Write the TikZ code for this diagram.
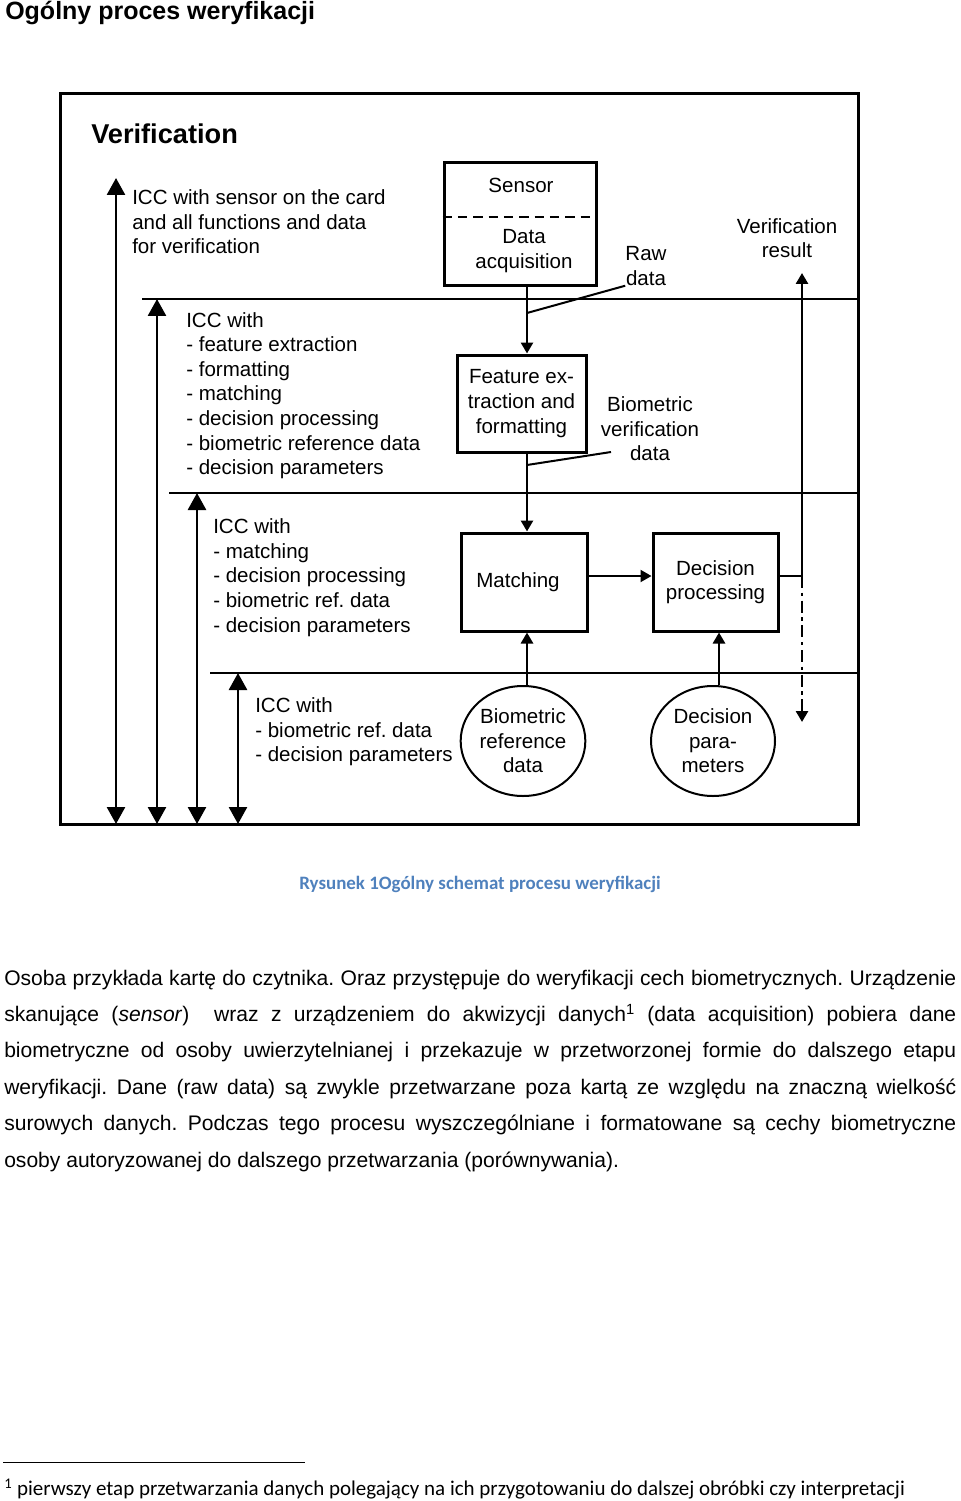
\documentclass[tikz,border=0pt]{standalone}
\usepackage{fontspec}
\setmainfont{Liberation Sans}
\newfontfamily\capfont{Carlito}
\usepackage{tikz}
\usetikzlibrary{arrows.meta,positioning,shapes.geometric}
\definecolor{capblue}{RGB}{79,129,189}
\frenchspacing

\begin{document}
\begin{tikzpicture}[x=0.75pt, y=-0.75pt,
  frame/.style={draw, line width=2.25pt, outer sep=0pt, inner sep=0pt,
    minimum width=598.5pt, minimum height=547.5pt},
  box/.style={draw, line width=2.25pt, inner sep=0pt, align=center,
    font=\fontsize{15.4}{18.45}\selectfont},
  blob/.style={draw, ellipse, line width=1.5pt, inner sep=0pt, align=center,
    minimum width=93.5pt, minimum height=82.5pt,
    font=\fontsize{15.4}{18.45}\selectfont},
  txt/.style={inner sep=0pt, align=left, font=\fontsize{15.4}{18.45}\selectfont},
  ctxt/.style={txt, align=center},
  layer/.style={line width=2pt},
  span/.style={<->, >={Triangle[width=13.5pt,length=12.75pt]}, line width=2pt},
  arr/.style={->, >={Triangle[width=9pt,length=8.25pt]}, line width=2pt},
  thinarr/.style={arr, line width=1.5pt},
  lead/.style={line width=1.5pt},
  cutline/.style={line width=1.5pt, dash pattern=on 7pt off 4.5pt},
  dotarr/.style={arr, dash pattern=on 9pt off 3.5pt on 2.5pt off 3.5pt},
]
\useasboundingbox (0,0) rectangle (960,1501);

%% Page heading
\node[anchor=base west, inner sep=0pt, font=\fontsize{18.75}{22}\selectfont\bfseries]
  (title) at (5,20) {Ogólny proces weryfikacji};

%% Card frame and layers
\node[frame] (card) at (459,459) {};
\node[txt, anchor=west, font=\fontsize{20.4}{24}\selectfont\bfseries]
  (vtitle) at (91,134) {Verification};

\coordinate (lay1) at (142,299);
\coordinate (lay2) at (169,493);
\coordinate (lay3) at (210,673);
\draw[layer] (lay1) -- (lay1 -| card.east);
\draw[layer] (lay2) -- (lay2 -| card.east);
\draw[layer] (lay3) -- (lay3 -| card.east);

\coordinate (lvl0) at (116,178);
\coordinate (lvl1) at (157,299);
\coordinate (lvl2) at (197,493);
\coordinate (lvl3) at (238,673);
\draw[span] (lvl0) -- (lvl0 |- card.south);
\draw[span] (lvl1) -- (lvl1 |- card.south);
\draw[span] (lvl2) -- (lvl2 |- card.south);
\draw[span] (lvl3) -- (lvl3 |- card.south);

\node[txt, anchor=west] (icc0) at (132,222)
  {ICC with sensor on the card\\and all functions and data\\for verification};
\node[txt, anchor=west] (icc1) at (186,395.5)
  {ICC with\\- feature extraction\\- formatting\\- matching\\- decision processing\\- biometric reference data\\- decision parameters};
\node[txt, anchor=west] (icc2) at (213,577.5)
  {ICC with\\- matching\\- decision processing\\- biometric ref. data\\- decision parameters};
\node[txt, anchor=west] (icc3) at (255,732)
  {ICC with\\- biometric ref. data\\- decision parameters};

%% Processing chain
\node[box, minimum width=114pt, minimum height=92.25pt] (sensor) at (520,224.5) {};
\coordinate (cut) at (0,217);
\draw[cutline] (sensor.west |- cut) -- (sensor.east |- cut);
\node[ctxt] (sensorlbl) at (521,185) {Sensor};
\node[ctxt] (acqlbl) at (524,251) {Data\\acquisition};

\node[box, minimum width=96.75pt, minimum height=72.75pt] (feat) at (521.5,403.5)
  {Feature ex-\\traction and\\formatting};
\node[box, minimum width=94.5pt, minimum height=73.5pt] (match) at (524,582)
  {Matching\hspace*{9pt}};
\node[box, minimum width=93.75pt, minimum height=73.5pt] (decide) at (715.5,582)
  {Decision\\processing};
\node[blob] (bref) at (523,741) {Biometric\\reference\\data};
\node[blob, minimum width=93pt] (dpar) at (713,741) {Decision\\para-\\meters};

\node[ctxt] (raw) at (646,266) {Raw\\data};
\node[ctxt] (bvd) at (650,429) {Biometric\\verification\\data};
\node[ctxt] (result) at (787,238) {Verification\\result};

%% Connections
\coordinate (spine) at (527,0);
\coordinate (dspine) at (719,0);
\coordinate (flow) at (0,576);
\draw[arr] (sensor.south -| spine) -- (feat.north -| spine);
\draw[arr] (feat.south -| spine) -- (match.north -| spine);
\draw[arr] (bref.north -| spine) -- (match.south -| spine);
\draw[arr] (dpar.north -| dspine) -- (decide.south -| dspine);
\draw[thinarr] (match.east |- flow) -- (decide.west |- flow);

\coordinate (restip) at (802,273);
\coordinate (cardtip) at (802,722);
\draw[arr] (decide.east |- flow) -| (restip);
\draw[dotarr] (restip |- flow) -- (cardtip);

\coordinate (rawtap) at (527,313);
\draw[lead] (rawtap) -- (raw.south west);
\coordinate (bvdtap) at (527,465);
\coordinate (bvdend) at (611,452);
\draw[lead] (bvdtap) -- (bvdend);

%% Caption
\node[anchor=base, inner sep=0pt, text=capblue,
  font=\capfont\bfseries\fontsize{14.2}{17}\selectfont]
  (cap) at (480,889) {Rysunek 1Ogólny schemat procesu weryfikacji};

%% Body text
\node[anchor=base west, inner sep=0pt, text width=714pt, align=justify,
  font=\fontsize{15.8}{27.3}\selectfont] (body) at (4,985)
  {Osoba przykłada kartę do czytnika. Oraz przystępuje do weryfikacji cech biometrycznych. Urządzenie\linebreak
  skanujące (\textit{sensor})\ \ wraz z urządzeniem do akwizycji danych\textsuperscript{1} (data acquisition) pobiera dane\linebreak
  biometryczne od osoby uwierzytelnianej i przekazuje w przetworzonej formie do dalszego etapu\linebreak
  weryfikacji. Dane (raw data) są zwykle przetwarzane poza kartą ze względu na znaczną wielkość\linebreak
  surowych danych. Podczas tego procesu wyszczególniane i formatowane są cechy biometryczne\linebreak
  osoby autoryzowanej do dalszego przetwarzania (porównywania).};

%% Footnote
\draw[line width=0.75pt] (3,1462) -- (305,1462);
\node[anchor=base west, inner sep=0pt, font=\capfont\fontsize{15.75}{19}\selectfont]
  (fn) at (4,1495) {\textsuperscript{1} pierwszy etap przetwarzania danych polegający na ich przygotowaniu do dalszej obróbki czy interpretacji};

\end{tikzpicture}
\end{document}
